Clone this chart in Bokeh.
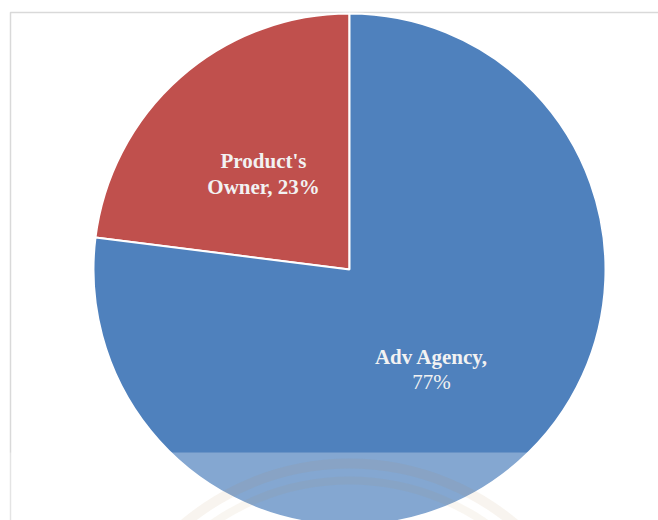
import numpy as np
from bokeh.plotting import figure
from bokeh.models import Range1d, ColumnDataSource
from bokeh.core.properties import value
from bokeh.embed import file_html
from bokeh.resources import INLINE

categories = ["Product's Owner", "Adv Agency"]
shares = [23, 77]
colors = ["#c0504d", "#4f81bd"]
label_line1 = ["Product's", "Adv Agency,"]
label_line2 = ["Owner, 23%", "77%"]

W, H = 658, 520
p = figure(width=W, height=H, output_backend="svg", toolbar_location=None,
           x_range=Range1d(0, W), y_range=Range1d(0, H), min_border=0)
p.axis.visible = False
p.grid.visible = False
p.outline_line_color = None
p.background_fill_color = "white"
p.border_fill_color = "white"

# chart frame
p.quad(left=[10], right=[W + 20], bottom=[-20], top=[H - 12],
       fill_color=None, line_color="#d9d9d9", line_width=1.5)

cx, cy, r = 349, H - 269, 256
vals = np.array(shares, dtype=float)
frac = vals / vals.sum()
ends = np.cumsum(frac)
starts = ends - frac
start_ang = np.pi / 2 + starts * 2 * np.pi
end_ang = np.pi / 2 + ends * 2 * np.pi
src = ColumnDataSource(dict(cat=categories, start=start_ang, end=end_ang, color=colors))
p.wedge(x=cx, y=cy, radius=r, start_angle="start", end_angle="end",
        direction="anticlock", fill_color="color", line_color="white",
        line_width=2, source=src)

# labels
lx = [263, 431]
ly1 = [H - 160, H - 356]
ly2 = [H - 186, H - 381]
p.text(x=lx, y=ly1, text=label_line1, text_font=value("Liberation Serif"),
       text_font_style="bold", text_font_size="21px", text_color="#f2f2f2",
       text_align="center", text_baseline="middle")
p.text(x=lx[:1], y=ly2[:1], text=label_line2[:1], text_font=value("Liberation Serif"),
       text_font_style="bold", text_font_size="21px", text_color="#f2f2f2",
       text_align="center", text_baseline="middle")
p.text(x=lx[1:], y=ly2[1:], text=label_line2[1:], text_font=value("Liberation Serif"),
       text_font_style="normal", text_font_size="21px", text_color="#f2f2f2",
       text_align="center", text_baseline="middle")

# faint watermark band at the bottom
p.quad(left=[0], right=[W], bottom=[-10], top=[H - 452],
       fill_color="white", fill_alpha=0.3, line_color=None)
p.annulus(x=[349], y=[H - 720], inner_radius=252, outer_radius=262,
          fill_color="#b08a50", fill_alpha=0.09, line_color=None)
p.annulus(x=[349], y=[H - 720], inner_radius=236, outer_radius=244,
          fill_color="#b08a50", fill_alpha=0.08, line_color=None)

open("out.html", "w").write(file_html(p, INLINE))
